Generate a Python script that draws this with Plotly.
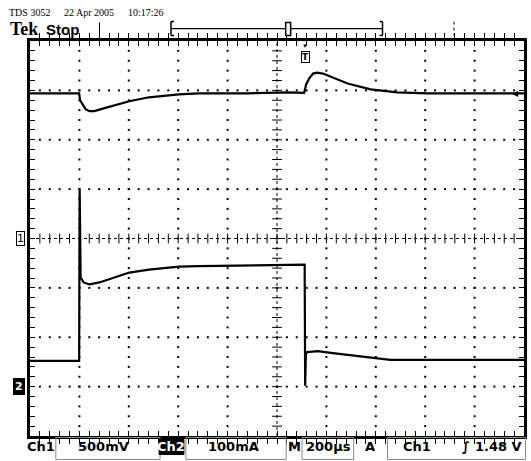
import plotly.graph_objects as go

# ---------------- data ----------------
# time axis: microseconds from the left edge of the screen (200 us/div, 10 div)
ch1_t = [0, 199, 203, 213, 225, 241, 261, 302, 402, 482, 603, 683, 884, 1045,
         1110, 1118, 1130, 1146, 1162, 1186, 1226, 1286, 1379, 1487, 1608, 2000]
ch1_v = [1.47, 1.47, 1.40, 1.36, 1.31, 1.29, 1.29, 1.32, 1.39, 1.43, 1.46, 1.47, 1.47, 1.48,
         1.475, 1.56, 1.62, 1.67, 1.68, 1.67, 1.63, 1.57, 1.51, 1.48, 1.47, 1.47]

ch2_t = [0, 199, 201, 205, 217, 241, 281, 402, 482, 603, 683, 884, 1045, 1112,
         1114, 1117, 1122, 1146, 1166, 1226, 1286, 1395, 1459, 1688, 2000]
ch2_i = [52, 52, 399, 221, 211, 207, 211, 231, 237, 243, 244, 245, 246, 247,
         2, 66, 70, 71, 72, 68, 64, 58, 54, 54, 54]

TRIGGER_US = 1114
TRIGGER_LEVEL_V = 1.48

header_labels = ["TDS 3052", "22 Apr 2005", "10:17:26"]
readout_labels = ["Ch1", "500mV", "Ch2", "100mA", "M", "200µs", "A", "Ch1", "∫", "1.48 V"]

# ---------------- screen geometry ----------------
W, H = 531, 461
PL, PR, PT, PB = 30, 527.5, 40.5, 436.5
T_DIV, V_DIV, I_DIV = 200, 0.5, 100


def pxx(px):
    return (px - PL) / (PR - PL)


def pxy(py):
    return (PB - py) / (PB - PT)


fig = go.Figure()

# graticule dots
gx, gy = [], []
for k in range(1, 10):
    if k == 5:
        continue
    for m in range(1, 40):
        gx.append(k * T_DIV)
        gy.append(-2 + m * 0.1)
for j in range(1, 8):
    if j == 4:
        continue
    for m in range(1, 50):
        gx.append(m * 40)
        gy.append(-2 + j * V_DIV)
fig.add_trace(go.Scatter(x=gx, y=gy, mode="markers", hoverinfo="skip",
                         marker=dict(symbol="square", size=2, color="black"), showlegend=False))

# centre cross ticks
fig.add_trace(go.Scatter(x=[1000] * 39, y=[-2 + m * 0.1 for m in range(1, 40)], mode="markers",
                         hoverinfo="skip", showlegend=False,
                         marker=dict(symbol="line-ew", size=7, line=dict(width=1, color="black"))))
fig.add_trace(go.Scatter(x=[m * 40 for m in range(1, 50)], y=[0] * 49, mode="markers",
                         hoverinfo="skip", showlegend=False,
                         marker=dict(symbol="line-ns", size=7, line=dict(width=1, color="black"))))

# traces
fig.add_trace(go.Scatter(x=ch1_t, y=ch1_v, mode="lines", line=dict(color="black", width=2.2),
                         showlegend=False, name="Ch1"))
fig.add_trace(go.Scatter(x=ch2_t, y=ch2_i, mode="lines", line=dict(color="black", width=2.2),
                         yaxis="y2", showlegend=False, name="Ch2"))

shapes = []
# centre lines (dotted)
shapes.append(dict(type="line", xref="x", yref="paper", x0=1000, x1=1000, y0=0, y1=1,
                   line=dict(color="black", width=1, dash="dot")))
shapes.append(dict(type="line", xref="paper", yref="y", x0=0, x1=1, y0=0, y1=0,
                   line=dict(color="black", width=1, dash="dot")))


def pline(x0, y0, x1, y1, width=1, dash="solid", color="black"):
    shapes.append(dict(type="line", xref="paper", yref="paper", x0=pxx(x0), x1=pxx(x1),
                       y0=pxy(y0), y1=pxy(y1), line=dict(color=color, width=width, dash=dash)))


def prect(x0, y0, x1, y1, color="#888", width=1, fill=None):
    shapes.append(dict(type="rect", xref="paper", yref="paper", x0=pxx(x0), x1=pxx(x1),
                       y0=pxy(y0), y1=pxy(y1), line=dict(color=color, width=width),
                       fillcolor=fill if fill else "rgba(0,0,0,0)"))


# record bar at top
pline(172, 28, 385, 28, 1.2)
pline(172, 21, 172, 35, 1.5)
pline(172, 21, 175, 21, 1.5)
pline(172, 35, 175, 35, 1.5)
pline(385, 21, 385, 35, 1.5)
pline(382, 21, 385, 21, 1.5)
pline(382, 35, 385, 35, 1.5)
prect(287.5, 22, 292.5, 35, color="black", width=1.5, fill="white")
pline(100, 22, 100, 35, 1)
pline(457, 21, 457, 35, 1, dash="dot")

# readout boxes
prect(56, 438, 161, 460)
prect(187, 438, 288, 460)
prect(304, 438, 356, 460)
prect(390, 438, 529, 460)
prect(160, 440, 185, 455, color="black", width=1, fill="black")

annotations = []


def ptext(text, cx, cy, size, family, color="black", bold=False, xanchor="center"):
    annotations.append(dict(text=("<b>%s</b>" % text) if bold else text, xref="paper", yref="paper",
                            x=pxx(cx), y=pxy(cy), xanchor=xanchor, yanchor="middle",
                            showarrow=False, font=dict(size=size, family=family, color=color)))


# header
ptext(header_labels[0], 7, 12, 10, "Liberation Serif", xanchor="left")
ptext(header_labels[1], 62, 12, 10, "Liberation Serif", xanchor="left")
ptext(header_labels[2], 127, 12, 10, "Liberation Serif", xanchor="left")
ptext("Tek", 8, 28, 18, "Liberation Serif", bold=True, xanchor="left")
ptext("Stop", 44, 28.5, 15, "Liberation Sans", bold=True, xanchor="left")

# readout row
ry = 447.5
rf = "DejaVu Sans"
ptext(readout_labels[0], 41.5, ry, 13, rf, bold=True)
ptext(readout_labels[1], 104, ry, 13, rf, bold=True)
ptext(readout_labels[2], 172.5, ry, 13, rf, color="white", bold=True)
ptext(readout_labels[3], 235, ry, 13, rf, bold=True)
ptext(readout_labels[4], 296, ry, 13, rf, bold=True)
ptext(readout_labels[5], 331, ry, 13, rf, bold=True)
ptext(readout_labels[6], 372, ry, 13, rf, bold=True)
ptext(readout_labels[7], 420, ry, 13, rf, bold=True)
ptext(readout_labels[8], 469, ry, 13, rf, bold=True)
ptext(readout_labels[9], 528, ry, 13, rf, bold=True, xanchor="right")

# channel ground markers
annotations.append(dict(text="1", xref="paper", yref="y", x=0, y=0, xanchor="right", yanchor="middle",
                        xshift=-5, showarrow=False, bordercolor="black", borderwidth=1, borderpad=0,
                        bgcolor="white", font=dict(size=11, family="DejaVu Sans", color="black")))
annotations.append(dict(text="<b>2</b>", xref="paper", yref="y2", x=0, y=0, xanchor="right",
                        yanchor="middle", xshift=-5, showarrow=False, bordercolor="black",
                        borderwidth=1, borderpad=1, bgcolor="black",
                        font=dict(size=11, family="DejaVu Sans", color="white")))

# trigger position / level markers
annotations.append(dict(text="▼", xref="x", yref="paper", x=TRIGGER_US, y=1, yanchor="top",
                        yshift=1, showarrow=False, font=dict(size=6, color="black")))
annotations.append(dict(text="<b>T</b>", xref="x", yref="paper", x=TRIGGER_US, y=1, yanchor="top",
                        yshift=-10, showarrow=False, bordercolor="black", borderwidth=1, borderpad=0,
                        bgcolor="white", font=dict(size=9, family="DejaVu Sans", color="black")))
annotations.append(dict(text="◀", xref="paper", yref="y", x=1, y=TRIGGER_LEVEL_V, xanchor="right",
                        xshift=-3, showarrow=False, font=dict(size=8, color="black")))

axis_common = dict(showgrid=False, zeroline=False, showline=True, linewidth=3, linecolor="black",
                   mirror="allticks", ticks="inside", ticklen=5, tickwidth=1, tickcolor="black",
                   showticklabels=False, fixedrange=True)

fig.update_layout(
    width=W, height=H,
    margin=dict(l=PL, r=W - PR, t=PT, b=H - PB, pad=0),
    paper_bgcolor="white", plot_bgcolor="white",
    xaxis=dict(range=[0, 10 * T_DIV], tick0=0, dtick=T_DIV / 5, **axis_common),
    yaxis=dict(range=[-4 * V_DIV, 4 * V_DIV], tick0=0, dtick=V_DIV / 5, **axis_common),
    yaxis2=dict(range=[-1 * I_DIV, 7 * I_DIV], overlaying="y", visible=False, fixedrange=True),
    shapes=shapes,
    annotations=annotations,
    showlegend=False,
)

fig.write_html("out.html")
